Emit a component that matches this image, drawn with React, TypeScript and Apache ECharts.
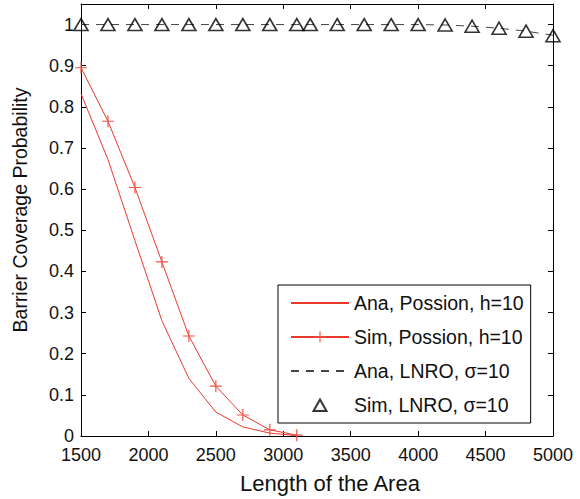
import React, { useEffect, useRef } from "react";
import * as echarts from "echarts";

const possionX = [1500, 1700, 1900, 2100, 2300, 2500, 2700, 2900, 3100];
const anaPossion = [0.832, 0.672, 0.475, 0.28, 0.14, 0.058, 0.022, 0.007, 0.001];
const simPossion = [0.895, 0.765, 0.604, 0.423, 0.243, 0.121, 0.051, 0.015, 0.002];

const lnroX = [1500, 1700, 1900, 2100, 2300, 2500, 2700, 2900, 3100, 3200, 3400, 3600, 3800, 4000, 4200, 4400, 4600, 4800, 5000];
const anaLnro = [1, 1, 1, 1, 1, 1, 1, 1, 1, 1, 1, 1, 1, 1, 0.999, 0.996, 0.991, 0.984, 0.974];
const simLnro = [1, 1, 1, 1, 1, 1, 1, 1, 1, 1, 1, 1, 1, 1, 0.999, 0.996, 0.991, 0.984, 0.973];

const seriesNames = [
  "Ana, Possion, h=10",
  "Sim, Possion, h=10",
  "Ana, LNRO, \u03c3=10",
  "Sim, LNRO, \u03c3=10",
];

const xMin = 1500;
const xMax = 5000;
const xStep = 500;
const yMin = 0;
const yMax = 1.05;
const yStep = 0.1;

const FONT = "'Liberation Sans', Arial, Helvetica, sans-serif";
const RED = "#e8392c";
const PLUS = "path://M9,0h2v20h-2zM0,9h20v2h-20z";
const TRI_ICON = "path://M0,0M58,14M22.5,13L29,1.5L35.5,13Z";

const zip = (xs: number[], ys: number[]) => xs.map((x, i) => [x, ys[i]]);

export default function App() {
  const ref = useRef<HTMLDivElement>(null);
  useEffect(() => {
    if (!ref.current) return;
    const chart = echarts.init(ref.current, null, { renderer: "svg" });
    const yFmt = (v: number) => {
      if (v > 1.001) return "";
      return String(Number(v.toFixed(1)));
    };
    const xFmt = (v: number) => String(Math.round(v));
    const axisCommon = {
      axisLine: { show: true, onZero: false, lineStyle: { color: "#000", width: 1 } },
      axisTick: { show: true, inside: true, length: 5, lineStyle: { color: "#000" } },
      splitLine: { show: false },
    };
    const hidden = { color: "rgba(0,0,0,0)", borderWidth: 0, opacity: 0 };
    chart.setOption({
      animation: false,
      backgroundColor: "#fff",
      textStyle: { fontFamily: FONT },
      grid: { left: 81, right: 27, top: 4, bottom: 63, containLabel: false },
      legend: {
        orient: "vertical",
        left: 278,
        top: 285,
        backgroundColor: "#fff",
        borderColor: "#000",
        borderWidth: 1,
        borderRadius: 0,
        padding: [8, 7, 8, 12],
        itemWidth: 58,
        itemHeight: 14,
        itemGap: 14,
        textStyle: { fontSize: 19.5, color: "#111", fontFamily: FONT },
        data: [
          { name: seriesNames[0], itemStyle: hidden },
          { name: seriesNames[1] },
          { name: seriesNames[2], itemStyle: hidden },
          { name: seriesNames[3], icon: TRI_ICON },
        ],
      },
      xAxis: [
        {
          type: "value",
          min: xMin,
          max: xMax,
          interval: xStep,
          name: "Length of the Area",
          nameLocation: "middle",
          nameGap: 36,
          nameTextStyle: { fontSize: 22, color: "#111", fontFamily: FONT, padding: [0, 0, 0, 26] },
          axisLabel: { fontSize: 18, lineHeight: 18, color: "#111", margin: 10, formatter: xFmt, fontFamily: FONT },
          ...axisCommon,
        },
        {
          type: "value",
          position: "top",
          min: xMin,
          max: xMax,
          interval: xStep,
          axisLabel: { show: false },
          ...axisCommon,
        },
      ],
      yAxis: [
        {
          type: "value",
          min: yMin,
          max: yMax,
          interval: yStep,
          name: "Barrier Coverage Probability",
          nameLocation: "middle",
          nameGap: 51,
          nameTextStyle: { fontSize: 19.5, color: "#111", fontFamily: FONT, padding: [0, 0, 0, 20] },
          axisLabel: { fontSize: 18, lineHeight: 14, color: "#111", margin: 7, formatter: yFmt, fontFamily: FONT },
          ...axisCommon,
        },
        {
          type: "value",
          position: "right",
          min: yMin,
          max: yMax,
          interval: yStep,
          axisLabel: { show: false },
          ...axisCommon,
        },
      ],
      series: [
        {
          name: seriesNames[0],
          type: "line",
          data: zip(possionX, anaPossion),
          showSymbol: false,
          symbol: "none",
          lineStyle: { color: RED, width: 1 },
          itemStyle: { color: RED },
          z: 3,
        },
        {
          name: seriesNames[1],
          type: "line",
          data: zip(possionX, simPossion),
          symbol: PLUS,
          symbolSize: 12,
          lineStyle: { color: RED, width: 1 },
          itemStyle: { color: "#ee5548" },
          z: 4,
        },
        {
          name: seriesNames[2],
          type: "line",
          data: zip(lnroX, anaLnro),
          symbol: "none",
          lineStyle: { color: "#444", width: 1, type: [8, 7] },
          itemStyle: { color: "#444" },
          z: 2,
        },
        {
          name: seriesNames[3],
          type: "scatter",
          data: zip(lnroX, simLnro),
          symbol: "triangle",
          symbolSize: [14, 12],
          itemStyle: { color: "rgba(0,0,0,0)", borderColor: "#000", borderWidth: 1.6 },
          z: 5,
        },
      ],
    });
    return () => chart.dispose();
  }, []);
  return <div ref={ref} style={{ width: 580, height: 499, position: "absolute", left: 0, top: 0 }} />;
}
